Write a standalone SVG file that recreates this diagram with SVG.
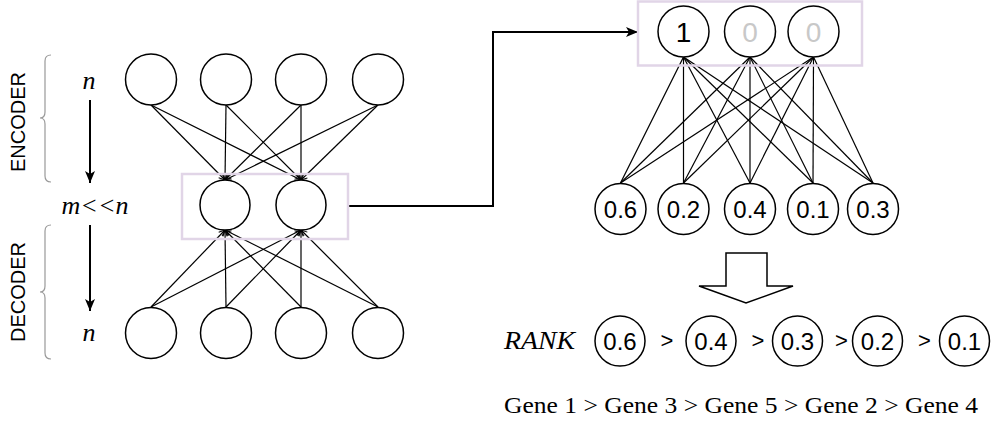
<svg xmlns="http://www.w3.org/2000/svg" width="991" height="424" viewBox="0 0 991 424">
<defs>
<marker id="small" markerUnits="userSpaceOnUse" markerWidth="10" markerHeight="10" refX="7" refY="4" orient="auto">
<path d="M1,1 L7,4 L1,7" fill="none" stroke="#000" stroke-width="1"/>
</marker>
<marker id="big" markerUnits="userSpaceOnUse" markerWidth="14" markerHeight="14" refX="12" refY="6" orient="auto">
<path d="M0,1 L12,6 L0,11 L3,6 Z" fill="#000"/>
</marker>
</defs>
<style>
.n{fill:#fff;stroke:#000;stroke-width:1.5}
.e{stroke:#000;stroke-width:1.2;fill:none}
.box{fill:none;stroke:#e1d5e7;stroke-width:2.5}
.brace{fill:none;stroke:#999;stroke-width:1.2}
.sans{font-family:"Liberation Sans",Arial,sans-serif}
.serif{font-family:"Liberation Serif","Times New Roman",serif}
.num{font-family:"Liberation Sans",Arial,sans-serif;font-size:24px;text-anchor:middle;fill:#000}
.gt{font-family:"Liberation Sans",Arial,sans-serif;font-size:28px;text-anchor:middle}
.thick{stroke:#000;stroke-width:2;fill:none}
</style>
<rect width="991" height="424" fill="#fff"/>

<g id="labels">
<text class="sans" font-size="20" text-anchor="middle" transform="translate(25,122) rotate(-90)">ENCODER</text>
<text class="sans" font-size="20" text-anchor="middle" transform="translate(25,292) rotate(-90)">DECODER</text>
<path class="brace" d="M51,55 Q45,55 45,61 L45,112 Q45,118 40,118 Q45,118 45,124 L45,176 Q45,182 51,182"/>
<path class="brace" d="M51,225 Q45,225 45,231 L45,286 Q45,292 40,292 Q45,292 45,298 L45,353 Q45,359 51,359"/>
<text class="serif" font-size="26" font-style="italic" text-anchor="middle" x="89" y="89">n</text>
<text class="serif" font-size="26" font-style="italic" text-anchor="middle" x="95" y="214">m&lt;&lt;n</text>
<text class="serif" font-size="26" font-style="italic" text-anchor="middle" x="89" y="341">n</text>
<line class="thick" x1="90" y1="100" x2="90" y2="183" marker-end="url(#big)"/>
<line class="thick" x1="90" y1="225" x2="90" y2="311" marker-end="url(#big)"/>
</g>

<g id="connectors">
<line class="e" x1="151" y1="105" x2="225" y2="180" marker-end="url(#small)"/>
<line class="e" x1="151" y1="105" x2="301" y2="180" marker-end="url(#small)"/>
<line class="e" x1="226" y1="105" x2="225" y2="180" marker-end="url(#small)"/>
<line class="e" x1="226" y1="105" x2="301" y2="180" marker-end="url(#small)"/>
<line class="e" x1="301" y1="105" x2="225" y2="180" marker-end="url(#small)"/>
<line class="e" x1="301" y1="105" x2="301" y2="180" marker-end="url(#small)"/>
<line class="e" x1="378" y1="105" x2="225" y2="180" marker-end="url(#small)"/>
<line class="e" x1="378" y1="105" x2="301" y2="180" marker-end="url(#small)"/>

<line class="e" x1="151" y1="307" x2="225" y2="230" marker-end="url(#small)"/>
<line class="e" x1="151" y1="307" x2="301" y2="230" marker-end="url(#small)"/>
<line class="e" x1="226" y1="307" x2="225" y2="230" marker-end="url(#small)"/>
<line class="e" x1="226" y1="307" x2="301" y2="230" marker-end="url(#small)"/>
<line class="e" x1="301" y1="307" x2="225" y2="230" marker-end="url(#small)"/>
<line class="e" x1="301" y1="307" x2="301" y2="230" marker-end="url(#small)"/>
<line class="e" x1="378" y1="307" x2="225" y2="230" marker-end="url(#small)"/>
<line class="e" x1="378" y1="307" x2="301" y2="230" marker-end="url(#small)"/>

<path class="thick" d="M349,206 H493 V32 H638" marker-end="url(#big)"/>

<g class="e">
<line x1="683.5" y1="57" x2="620.5" y2="183"/>
<line x1="683.5" y1="57" x2="683.5" y2="183"/>
<line x1="683.5" y1="57" x2="750" y2="183"/>
<line x1="683.5" y1="57" x2="813" y2="183"/>
<line x1="683.5" y1="57" x2="873" y2="183"/>
<line x1="750" y1="57" x2="620.5" y2="183"/>
<line x1="750" y1="57" x2="683.5" y2="183"/>
<line x1="750" y1="57" x2="750" y2="183"/>
<line x1="750" y1="57" x2="813" y2="183"/>
<line x1="750" y1="57" x2="873" y2="183"/>
<line x1="813.5" y1="57" x2="620.5" y2="183"/>
<line x1="813.5" y1="57" x2="683.5" y2="183"/>
<line x1="813.5" y1="57" x2="750" y2="183"/>
<line x1="813.5" y1="57" x2="813" y2="183"/>
<line x1="813.5" y1="57" x2="873" y2="183"/>
</g>
<polygon points="726,253 767,253 767,286 793,286 746,303 699,286 726,286" fill="#fff" stroke="#000" stroke-width="1.5"/>
</g>

<g id="enc-in">
<circle class="n" cx="151" cy="79.5" r="25.5"/>
<circle class="n" cx="226" cy="79.5" r="25.5"/>
<circle class="n" cx="301" cy="79.5" r="25.5"/>
<circle class="n" cx="378" cy="79.5" r="25.5"/>
</g>
<g id="latent">
<rect class="box" x="182" y="174" width="166" height="65"/>
<circle class="n" cx="225" cy="205" r="25"/>
<circle class="n" cx="301" cy="205" r="25"/>
</g>
<g id="dec-out">
<circle class="n" cx="151" cy="333" r="25.5"/>
<circle class="n" cx="226" cy="333" r="25.5"/>
<circle class="n" cx="301" cy="333" r="25.5"/>
<circle class="n" cx="378" cy="333" r="25.5"/>
</g>

<g id="onehot">
<rect class="box" x="638" y="1.5" width="224" height="64"/>
<circle class="n" cx="683.5" cy="31.5" r="25.5"/>
<text class="gt" x="683.5" y="42" fill="#000">1</text>
<circle class="n" cx="750" cy="31.5" r="25.5"/>
<text class="gt" x="750" y="42" fill="#c8c8c8">0</text>
<circle class="n" cx="813.5" cy="31.5" r="25.5"/>
<text class="gt" x="813.5" y="42" fill="#c8c8c8">0</text>
</g>

<g id="outputs">
<circle class="n" cx="620.5" cy="209" r="25.5"/><text class="num" x="620.5" y="218">0.6</text>
<circle class="n" cx="683.5" cy="209" r="25.5"/><text class="num" x="683.5" y="218">0.2</text>
<circle class="n" cx="750" cy="209" r="25.5"/><text class="num" x="750" y="218">0.4</text>
<circle class="n" cx="813" cy="209" r="25.5"/><text class="num" x="813" y="218">0.1</text>
<circle class="n" cx="873" cy="209" r="25.5"/><text class="num" x="873" y="218">0.3</text>
</g>

<g id="rank">
<text class="serif" font-size="25" font-style="italic" x="504" y="349" textLength="71" lengthAdjust="spacingAndGlyphs">RANK</text>
<circle class="n" cx="620" cy="341" r="25"/><text class="num" x="620" y="350">0.6</text>
<text class="sans" font-size="22" text-anchor="middle" x="667" y="348">&gt;</text>
<circle class="n" cx="711" cy="341" r="25"/><text class="num" x="711" y="350">0.4</text>
<text class="sans" font-size="22" text-anchor="middle" x="758" y="348">&gt;</text>
<circle class="n" cx="797.5" cy="341" r="25"/><text class="num" x="797.5" y="350">0.3</text>
<text class="sans" font-size="22" text-anchor="middle" x="841.5" y="348">&gt;</text>
<circle class="n" cx="877.5" cy="341" r="25"/><text class="num" x="877.5" y="350">0.2</text>
<text class="sans" font-size="22" text-anchor="middle" x="924.5" y="348">&gt;</text>
<circle class="n" cx="964.5" cy="341" r="25"/><text class="num" x="964.5" y="350">0.1</text>
</g>

<g id="genes">
<text class="serif" font-size="24" x="504" y="413" textLength="474" lengthAdjust="spacingAndGlyphs">Gene 1 &gt; Gene 3 &gt; Gene 5 &gt; Gene 2 &gt; Gene 4</text>
</g>
</svg>
